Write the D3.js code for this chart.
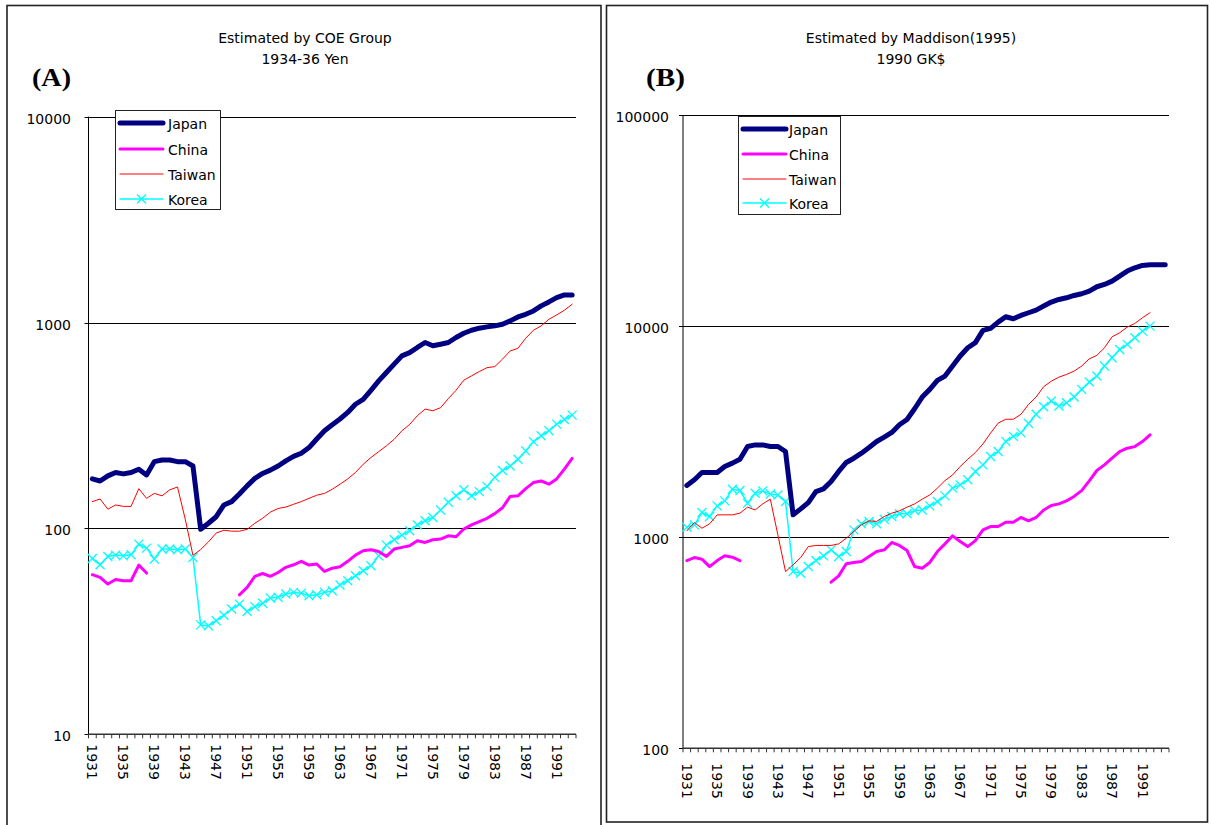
<!DOCTYPE html>
<html>
<head>
<meta charset="utf-8">
<script src="https://cdn.jsdelivr.net/npm/d3@7"></script>
<style>
  html, body { margin: 0; padding: 0; background: #fff; }
  svg { display: block; }
  text { font-family: "DejaVu Sans", sans-serif; fill: #000; }
</style>
</head>
<body>
<svg id="chart" width="1212" height="825"></svg>
<script>
// ---- Per-capita GDP, 1931-1993 (COE Group, 1934-36 yen) ----
const yearsA = d3.range(1931, 1994);
const japanA = [174,170,180,187,184,187,194,182,211,215,
  215,211,211,201,99,106,114,130,135,147,
  161,175,185,192,201,213,224,232,247,272,
  298,319,340,366,401,424,469,521,572,628,
  689,714,757,800,771,785,800,846,887,918,
  939,953,964,982,1019,1065,1097,1139,1205,1260,
  1322,1362,1362];
const chinaA = [59.6,57.8,53.7,56.5,55.7,55.7,66.4,60.7,null,null,
  null,null,null,null,null,null,null,null,null,47.6,
  51.7,58.5,60.4,58.5,61.1,64.7,66.6,69.2,66.4,67.2,
  61.8,64.1,65.1,69.2,74.2,77.9,78.8,77.3,73.1,79.4,
  80.9,82.4,87.1,85.5,88.1,88.8,92.1,91.1,99.3,104,
  108,112,118,126,143,144,156,167,170,164,
  174,194,219];
const taiwanA = [135,139,124,130,128,128,156,140,148,144,
  154,159,111,74,79,86,95,98,97,97,
  99,106,112,120,125,127,131,135,140,145,
  148,155,164,174,187,205,221,236,252,271,
  298,320,353,380,373,386,427,469,525,551,
  578,604,611,664,728,750,839,918,964,1038,
  1089,1148,1227];
const koreaA = [71.5,66.6,73.1,74.2,73.6,74.5,83.9,80.2,71,79.4,
  79.4,78.8,79.4,72.3,34.0,33.7,35.6,37.9,40.6,42.9,
  39.5,41.7,43.3,45.9,46.3,48.0,48.9,48.5,47.1,47.6,
  48.9,49.8,53.1,55.7,58.9,62.3,65.9,73.6,83,88.1,
  92.8,97.4,104,109,113,123,134,144,154,144,
  151,160,177,191,201,217,238,264,282,298,
  321,338,355];

// ---- Per-capita GDP, 1931-1994 (Maddison 1995, 1990 GK$) ----
const yearsB = d3.range(1931, 1995);
const japanB = [1758,1870,2025,2025,2025,2162,2243,2340,2690,2737,
  2737,2690,2690,2546,1276,1362,1459,1645,1694,1835,
  2048,2260,2367,2500,2660,2840,2978,3135,3408,3613,
  4059,4613,5015,5531,5799,6468,7215,7895,8345,9538,
  9749,10445,11070,10830,11234,11566,11905,12440,13000,13370,
  13620,13970,14230,14650,15360,15750,16330,17250,18230,18890,
  19380,19520,19520,19520];
const chinaB = [775,801,787,726,775,816,804,775,null,null,
  null,null,null,null,null,null,null,null,null,612,
  656,748,759,767,810,855,871,944,914,865,
  726,713,759,855,930,1015,954,903,964,1083,
  1123,1123,1178,1178,1240,1195,1240,1346,1412,1438,
  1486,1560,1663,1848,2070,2200,2367,2546,2640,2686,
  2838,3055,null,null];
const taiwanB = [1072,1173,1103,1157,1276,1276,1276,1300,1388,1346,
  1438,1514,1022,687,740,801,903,914,914,914,
  930,989,1064,1144,1195,1188,1253,1300,1333,1388,
  1438,1514,1586,1708,1854,1972,2162,2340,2518,2767,
  3111,3469,3620,3620,3820,4256,4613,5165,5486,5730,
  5900,6120,6470,7000,7265,7895,8895,9300,9890,10290,
  10950,11570,null,null];
const koreaB = [1115,1144,1309,1253,1407,1486,1687,1663,1449,1616,
  1657,1603,1586,1475,687,675,726,775,816,871,
  810,855,1083,1157,1186,1157,1217,1253,1291,1291,
  1337,1346,1407,1475,1570,1708,1769,1870,2048,2201,
  2412,2546,2843,3004,3121,3458,3820,4150,4415,4180,
  4335,4613,5015,5430,5800,6470,7080,7745,8190,8810,
  9466,10000,null,null];

const seriesNames = ["Japan", "China", "Taiwan", "Korea"];
const yearLabels = [1931,1935,1939,1943,1947,1951,1955,1959,1963,1967,1971,1975,1979,1983,1987,1991];
const tickValuesA = [10, 100, 1000, 10000];
const tickValuesB = [100, 1000, 10000, 100000];

// ---- Styling per series ----
const styles = {
  Japan:  { color: "#000080", width: 5,   marker: false },
  China:  { color: "#FF00FF", width: 3,   marker: false },
  Taiwan: { color: "#FF0000", width: 1,   marker: false },
  Korea:  { color: "#00FFFF", width: 1.5, marker: true }
};

const svg = d3.select("#chart");

const panels = [
  {
    frame: { x: 7, y: 5.5, w: 594, h: 840 },
    plot: { l: 88.5, r: 576, t: 116.7, b: 734.3 },
    years: yearsA,
    values: { Japan: japanA, China: chinaA, Taiwan: taiwanA, Korea: koreaA },
    ticks: tickValuesA,
    tickLabelX: 71,
    yearLabelGap: 10,
    title: ["Estimated by COE Group", "1934-36 Yen"],
    titleX: 305,
    tag: "(A)", tagX: 32,
    legend: { x: 115, y: 110, w: 105, h: 99, rows: [123, 149, 174, 199], sx0: 120, sx1: 163, tx: 168 }
  },
  {
    frame: { x: 606.5, y: 5.5, w: 601, h: 816.5 },
    plot: { l: 683, r: 1169, t: 115, b: 748.3 },
    years: yearsB,
    values: { Japan: japanB, China: chinaB, Taiwan: taiwanB, Korea: koreaB },
    ticks: tickValuesB,
    tickLabelX: 669,
    yearLabelGap: 15,
    title: ["Estimated by Maddison(1995)", "1990 GK$"],
    titleX: 911,
    tag: "(B)", tagX: 646,
    legend: { x: 738, y: 116, w: 102, h: 98, rows: [129, 154, 179, 203], sx0: 743, sx1: 786, tx: 789 }
  }
];

function drawX(g, cx, cy, r, color) {
  g.append("path")
    .attr("d", `M${cx - r},${cy - r}L${cx + r},${cy + r}M${cx - r},${cy + r}L${cx + r},${cy - r}`)
    .attr("stroke", color).attr("stroke-width", 1.3).attr("fill", "none");
}

panels.forEach(p => {
  const g = svg.append("g");

  // panel frame
  g.append("rect")
    .attr("x", p.frame.x).attr("y", p.frame.y)
    .attr("width", p.frame.w).attr("height", p.frame.h)
    .attr("fill", "none").attr("stroke", "#222").attr("stroke-width", 1.6);

  // titles
  g.append("text").attr("x", p.titleX).attr("y", 43)
    .attr("text-anchor", "middle").attr("font-size", 14).text(p.title[0]);
  g.append("text").attr("x", p.titleX).attr("y", 64)
    .attr("text-anchor", "middle").attr("font-size", 14).text(p.title[1]);
  g.append("text").attr("x", p.tagX).attr("y", 86)
    .attr("font-family", "'Liberation Serif', 'Times New Roman', serif")
    .style("font-family", "'Liberation Serif', 'Times New Roman', serif")
    .attr("font-weight", "bold").attr("font-size", 25)
    .attr("textLength", 39).attr("lengthAdjust", "spacingAndGlyphs")
    .text(p.tag);

  const x = d3.scaleBand().domain(p.years).range([p.plot.l, p.plot.r]).padding(0);
  const cx = yr => x(yr) + x.bandwidth() / 2;
  const y = d3.scaleLog().domain([p.ticks[0], p.ticks[p.ticks.length - 1]]).range([p.plot.b, p.plot.t]);

  // horizontal gridlines at each decade
  g.selectAll(".grid").data(p.ticks.slice(1)).enter().append("line")
    .attr("x1", p.plot.l).attr("x2", p.plot.r)
    .attr("y1", d => Math.round(y(d)) + 0.5).attr("y2", d => Math.round(y(d)) + 0.5)
    .attr("stroke", "#000").attr("stroke-width", 1);

  // y tick labels
  g.selectAll(".ylab").data(p.ticks).enter().append("text")
    .attr("x", p.tickLabelX).attr("y", d => y(d) + 7)
    .attr("text-anchor", "end").attr("font-size", 14)
    .text(d => d3.format("d")(d));

  // y axis line
  g.append("line")
    .attr("x1", p.plot.l).attr("x2", p.plot.l)
    .attr("y1", p.plot.t).attr("y2", p.plot.b)
    .attr("stroke", "#000").attr("stroke-width", 1);
  g.selectAll(".ytick").data(p.ticks).enter().append("line")
    .attr("x1", p.plot.l - 4).attr("x2", p.plot.l)
    .attr("y1", d => Math.round(y(d)) + 0.5).attr("y2", d => Math.round(y(d)) + 0.5)
    .attr("stroke", "#000");

  // x axis with tick marks at category boundaries
  g.append("line")
    .attr("x1", p.plot.l).attr("x2", p.plot.r)
    .attr("y1", p.plot.b).attr("y2", p.plot.b)
    .attr("stroke", "#333").attr("stroke-width", 1.5);
  const bounds = p.years.map(yr => x(yr)).concat([p.plot.r]);
  g.selectAll(".xtick").data(bounds).enter().append("line")
    .attr("x1", d => d).attr("x2", d => d)
    .attr("y1", p.plot.b).attr("y2", p.plot.b + 4)
    .attr("stroke", "#333").attr("stroke-width", 1);

  // rotated year labels
  g.selectAll(".xlab").data(yearLabels.filter(yr => p.years.includes(yr))).enter().append("text")
    .attr("transform", d => `translate(${cx(d)},${p.plot.b + p.yearLabelGap}) rotate(90)`)
    .attr("dy", "0.35em").attr("font-size", 14)
    .text(d => d);

  // series lines
  const line = d3.line()
    .defined(d => d.v != null)
    .x(d => cx(d.yr)).y(d => y(d.v));

  ["Korea", "Taiwan", "China", "Japan"].forEach(name => {
    const st = styles[name];
    const pts = p.years.map((yr, i) => ({ yr, v: p.values[name][i] }));
    g.append("path").datum(pts)
      .attr("d", line)
      .attr("fill", "none").attr("stroke", st.color).attr("stroke-width", st.width)
      .attr("stroke-linejoin", "round").attr("stroke-linecap", "round");
    if (st.marker) {
      pts.filter(d => d.v != null).forEach(d => drawX(g, cx(d.yr), y(d.v), 4.5, st.color));
    }
  });

  // legend
  const L = p.legend;
  g.append("rect").attr("x", L.x + 0.5).attr("y", L.y + 0.5)
    .attr("width", L.w).attr("height", L.h)
    .attr("fill", "#fff").attr("stroke", "#222").attr("stroke-width", 1);
  seriesNames.forEach((name, i) => {
    const st = styles[name];
    const ry = L.rows[i];
    g.append("line").attr("x1", L.sx0).attr("x2", L.sx1).attr("y1", ry).attr("y2", ry)
      .attr("stroke", st.color).attr("stroke-width", st.width).attr("stroke-linecap", "round");
    if (st.marker) drawX(g, (L.sx0 + L.sx1) / 2, ry, 4.5, st.color);
    g.append("text").attr("x", L.tx).attr("y", ry + 5.5).attr("font-size", 14).text(name);
  });
});
</script>
</body>
</html>
